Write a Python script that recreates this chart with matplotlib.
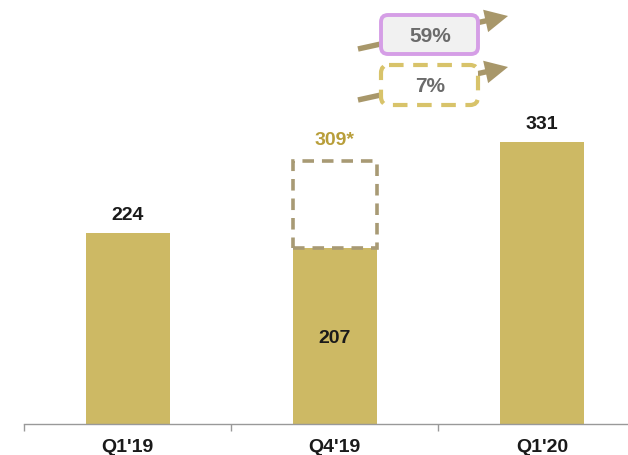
import matplotlib.pyplot as plt
from matplotlib.patches import Rectangle, FancyBboxPatch, FancyArrowPatch

plt.rcParams['font.family'] = ['Liberation Sans', 'DejaVu Sans']

quarters = ["Q1'19", "Q4'19", "Q1'20"]
values = [224, 207, 331]
pro_forma_q4 = 309
growth_labels = ["59%", "7%"]

bar_color = "#CDB964"
dash_color = "#A89A74"
arrow_color = "#A8976A"
label_size = 14

fig = plt.figure(figsize=(6.28, 4.56), dpi=100)
ax = fig.add_axes([24 / 628, 31 / 456, 604 / 628, 425 / 456])

x = list(range(len(quarters)))
bw = 0.406
ax.bar(x, values, width=bw, color=bar_color, zorder=2)

# pro-forma outline on top of Q4'19
ax.add_patch(Rectangle((1 - bw / 2, values[1]), bw, pro_forma_q4 - values[1],
                       fill=False, edgecolor=dash_color, linewidth=2.6,
                       linestyle=(0, (3.2, 2.2)), zorder=3))

for i, v in enumerate(values):
    if i == 1:
        ax.text(i, 101, str(v), ha="center", va="center",
                fontsize=label_size, fontweight="bold", color="#1a1a1a")
    else:
        ax.text(i, v + 22, str(v), ha="center", va="center",
                fontsize=label_size, fontweight="bold", color="#1a1a1a")
ax.text(1, pro_forma_q4 + 25, f"{pro_forma_q4}*", ha="center", va="center",
        fontsize=label_size, fontweight="bold", color="#B89E3A")

ax.set_xlim(-0.5, 2.415)
ax.set_ylim(0, 499)
ax.set_xticks([-0.5, 0.5, 1.5])
ax.set_xticklabels([])
ax.tick_params(axis="x", length=5, color="#999999", width=1)
ax.set_yticks([])
for s in ["top", "right", "left"]:
    ax.spines[s].set_visible(False)
ax.spines["bottom"].set_color("#999999")
ax.spines["bottom"].set_linewidth(1)
ax.patch.set_alpha(0)
for i, q in enumerate(quarters):
    ax.text(i, -26, q, ha="center", va="center", fontsize=label_size,
            fontweight="bold", color="#1a1a1a", clip_on=False)

# growth callouts in pixel coordinates
ov = fig.add_axes([0, 0, 1, 1])
ov.set_xlim(0, 628)
ov.set_ylim(456, 0)
ov.axis("off")
ov.patch.set_alpha(0)

for y0, label, boxed in [(50, growth_labels[0], True), (101, growth_labels[1], False)]:
    arr = FancyArrowPatch((358, y0), (508, y0 - 33),
                          arrowstyle="simple,head_length=0.55,head_width=0.55,tail_width=0.13",
                          mutation_scale=30, facecolor=arrow_color, edgecolor="none",
                          lw=0, shrinkA=0, shrinkB=0, zorder=2)
    ov.add_patch(arr)
    if boxed:
        box = FancyBboxPatch((381, y0 - 34), 97, 39,
                             boxstyle="round,pad=0,rounding_size=7",
                             facecolor="#F1F1F1", edgecolor="#D59EE6", linewidth=2.8,
                             zorder=5)
    else:
        box = FancyBboxPatch((381, y0 - 35), 97, 40,
                             boxstyle="round,pad=0,rounding_size=8",
                             facecolor="white", edgecolor="#D8C36A", linewidth=3,
                             linestyle=(0, (3.5, 2.3)), zorder=5)
    ov.add_patch(box)
    ov.text(430, y0 - 14, label, ha="center", va="center", fontsize=15,
            fontweight="bold", color="#6B6B6B", zorder=6)

fig.savefig("out.png", dpi=100)
